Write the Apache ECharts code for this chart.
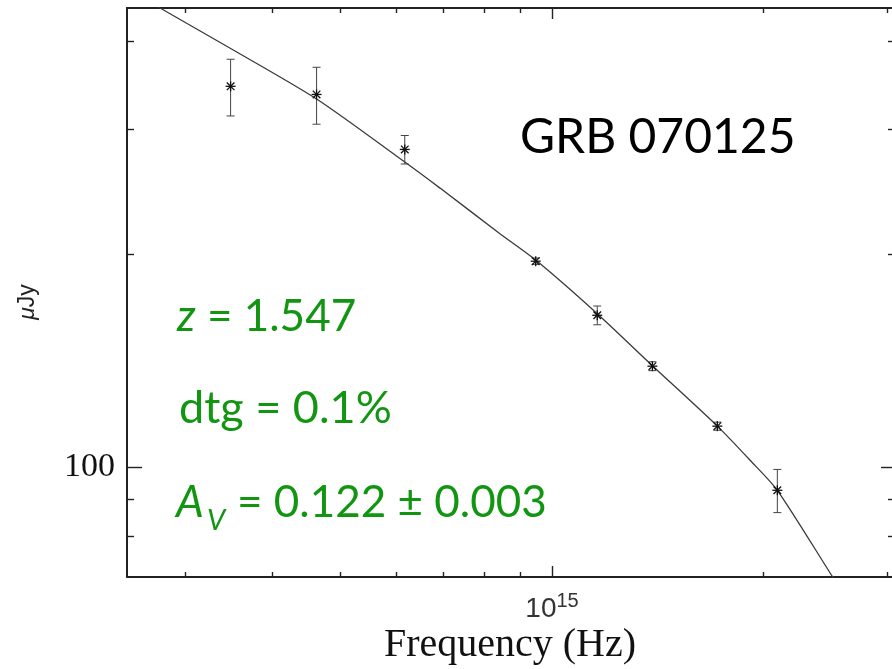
<!DOCTYPE html>
<html>
<head>
<meta charset="utf-8">
<script src="https://cdn.jsdelivr.net/npm/echarts@6/dist/echarts.min.js"></script>
<style>
  html, body { margin: 0; padding: 0; background: #fff; }
  #chart { width: 892px; height: 669px; }
</style>
</head>
<body>
<div id="chart"></div>
<script>
// GRB 070125 afterglow spectral energy distribution:
// broadband photometry (with 1-sigma errors) and the best-fit extinguished power-law model.
const freqHz   = [3.485e14, 4.62e14, 6.17e14, 9.48e14, 1.160e15, 1.390e15, 1.720e15, 2.094e15];
const fluxMuJy = [345, 336, 281, 195.4, 163.9, 138.9, 114.3, 92.8];
const fluxErr  = [31.7, 31, 13, 2, 5, 2, 1.5, 6.5];

const modelFreq = [2.48e14, 2.765e14, 3.33e14, 4.62e14, 6.17e14, 6.926e14, 8.43e14,
                   9.48e14, 1.16e15, 1.39e15, 1.72e15, 1.915e15, 2.094e15, 2.513e15, 2.657e15];
const modelFlux = [474, 445, 400.4, 331.1, 269.7, 247.8, 213.7,
                   196.1, 164.7, 139.1, 114.3, 102.3, 92.8, 69.9, 64.3];

const xMajorTicks = [1e15];
const xMinorTicks = [3e14, 4e14, 5e14, 6e14, 7e14, 8e14, 9e14, 2e15, 3e15];
const yMajorTicks = [100];
const yMinorTicks = [80, 90, 200, 300, 400];
const xRange = [2.481e14, 3.05e15];
const yRange = [70, 445];

const GREEN = '#129612';
const INK = '#222';

function axisDef(kind, position, ticks, tickLen, withLine, labelValues) {
  const range = kind === 'x' ? xRange : yRange;
  const ax = {
    type: 'log',
    logBase: 10,
    position: position,
    min: range[0],
    max: range[1],
    axisLine: { show: withLine, onZero: false, lineStyle: { color: INK, width: 2 } },
    axisTick: {
      show: true, inside: true, length: tickLen, customValues: ticks,
      lineStyle: { color: INK, width: 1.4 }
    },
    minorTick: { show: false },
    splitLine: { show: false },
    axisLabel: { show: false }
  };
  if (labelValues) {
    ax.axisLabel = kind === 'x'
      ? {
          show: true, customValues: labelValues, margin: 14,
          formatter: v => '{b|10}{s|' + Math.round(Math.log10(v)) + '}',
          rich: {
            b: { fontFamily: 'Liberation Sans', fontSize: 28, color: '#333', lineHeight: 32, verticalAlign: 'bottom' },
            s: { fontFamily: 'Liberation Sans', fontSize: 20, color: '#333', lineHeight: 22, verticalAlign: 'top' }
          }
        }
      : {
          show: true, customValues: labelValues, margin: 12,
          formatter: v => String(v),
          fontFamily: 'Liberation Serif', fontSize: 34, color: '#111'
        };
  }
  return ax;
}

const chart = echarts.init(document.getElementById('chart'), null, { renderer: 'canvas' });

chart.setOption({
  animation: false,
  backgroundColor: '#fff',
  // the frame's right edge falls at the canvas border, so its line is not drawn
  grid: { left: 127, right: 0, top: 8, bottom: 92, containLabel: false },
  xAxis: [
    axisDef('x', 'bottom', xMajorTicks, 11, true, xMajorTicks),
    axisDef('x', 'bottom', xMinorTicks, 5, false, null),
    axisDef('x', 'top', xMajorTicks, 11, true, null),
    axisDef('x', 'top', xMinorTicks, 5, false, null)
  ],
  yAxis: [
    axisDef('y', 'left', yMajorTicks, 15, true, yMajorTicks),
    axisDef('y', 'left', yMinorTicks, 7, false, null),
    axisDef('y', 'right', yMajorTicks, 11, false, null),
    axisDef('y', 'right', yMinorTicks, 4, false, null)
  ],
  series: [
    {
      name: 'model',
      type: 'line',
      xAxisIndex: 0,
      yAxisIndex: 0,
      clip: true,
      showSymbol: false,
      smooth: 0.25,
      lineStyle: { color: '#3a3a3a', width: 1.3 },
      data: modelFreq.map((f, i) => [f, modelFlux[i]]),
      z: 2
    },
    {
      name: 'photometry',
      type: 'custom',
      xAxisIndex: 0,
      yAxisIndex: 0,
      data: freqHz.map((f, i) => [f, fluxMuJy[i], fluxErr[i]]),
      renderItem: function (params, api) {
        const f = api.value(0), v = api.value(1), e = api.value(2);
        const c = api.coord([f, v]);
        const hi = api.coord([f, v + e]);
        const lo = api.coord([f, v - e]);
        const cap = 4, s = 5, d = 3.8;
        const bar = { stroke: '#444', lineWidth: 1 };
        const star = { stroke: '#111', lineWidth: 1.3 };
        return {
          type: 'group',
          children: [
            { type: 'line', shape: { x1: c[0], y1: hi[1], x2: c[0], y2: lo[1] }, style: bar },
            { type: 'line', shape: { x1: c[0] - cap, y1: hi[1], x2: c[0] + cap, y2: hi[1] }, style: bar },
            { type: 'line', shape: { x1: c[0] - cap, y1: lo[1], x2: c[0] + cap, y2: lo[1] }, style: bar },
            { type: 'line', shape: { x1: c[0], y1: c[1] - s, x2: c[0], y2: c[1] + s }, style: star },
            { type: 'line', shape: { x1: c[0] - s, y1: c[1], x2: c[0] + s, y2: c[1] }, style: star },
            { type: 'line', shape: { x1: c[0] - d, y1: c[1] - d, x2: c[0] + d, y2: c[1] + d }, style: star },
            { type: 'line', shape: { x1: c[0] - d, y1: c[1] + d, x2: c[0] + d, y2: c[1] - d }, style: star }
          ]
        };
      },
      z: 3
    }
  ],
  graphic: [
    {
      type: 'text', x: 510, y: 645,
      style: {
        text: 'Frequency (Hz)', fontFamily: 'Liberation Serif', fontSize: 40,
        fill: '#111', align: 'center', verticalAlign: 'middle'
      }
    },
    {
      type: 'text', x: 28, y: 302, rotation: Math.PI / 2,
      style: {
        text: '{m|μ}Jy', fontFamily: 'Liberation Sans', fontSize: 23, fill: '#222',
        align: 'center', verticalAlign: 'middle',
        rich: { m: { fontFamily: 'Liberation Sans', fontStyle: 'italic', fontSize: 23, fill: '#222' } }
      }
    },
    {
      type: 'text', x: 520, y: 138,
      style: { text: 'GRB 070125', fontFamily: 'Lato', fontSize: 48, fill: '#000', verticalAlign: 'middle' }
    },
    {
      type: 'text', x: 177, y: 317,
      style: {
        text: '{i|z} = 1.547', fontFamily: 'Lato', fontSize: 44, fill: GREEN, verticalAlign: 'middle',
        rich: { i: { fontFamily: 'Lato', fontStyle: 'italic', fontSize: 44, fill: GREEN } }
      }
    },
    {
      type: 'text', x: 179, y: 408,
      style: { text: 'dtg = 0.1%', fontFamily: 'Lato', fontSize: 45, fill: GREEN, verticalAlign: 'middle' }
    },
    {
      type: 'text', x: 176, y: 503,
      style: { text: 'A', fontFamily: 'Lato', fontStyle: 'italic', fontSize: 44, fill: GREEN, verticalAlign: 'middle' }
    },
    {
      type: 'text', x: 207, y: 521,
      style: { text: 'V', fontFamily: 'Lato', fontStyle: 'italic', fontSize: 29, fill: GREEN, verticalAlign: 'middle' }
    },
    {
      type: 'text', x: 237, y: 503,
      style: { text: '= 0.122 ± 0.003', fontFamily: 'Lato', fontSize: 44, fill: GREEN, verticalAlign: 'middle' }
    }
  ]
});
</script>
</body>
</html>
